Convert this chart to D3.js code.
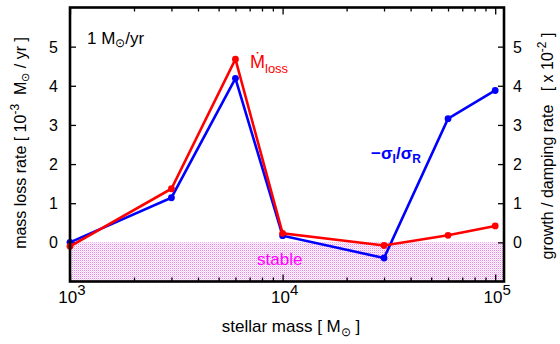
<!DOCTYPE html>
<html>
<head>
<meta charset="utf-8">
<script src="https://cdn.jsdelivr.net/npm/d3@7"></script>
<style>
  html, body { margin: 0; padding: 0; background: #fff; }
  svg { display: block; font-family: "Liberation Sans", Arial, Helvetica, sans-serif; }
</style>
</head>
<body>
<svg id="chart" width="560" height="344"></svg>
<script>
// stellar mass [M_sun]
const masses = [1e3, 3e3, 6e3, 1e4, 3e4, 6e4, 1e5];
// mass loss rate [1e-3 M_sun / yr]
const massLoss = [-0.1, 1.37, 4.68, 0.23, -0.08, 0.18, 0.42];
// growth / damping rate -sigma_I/sigma_R [x 1e-2]
const growthRate = [0.0, 1.14, 4.19, 0.17, -0.4, 3.16, 3.88];
// tick values
const yTicks = [0, 1, 2, 3, 4, 5];
const xMajor = [1e3, 1e4, 1e5];
const xExponents = ["3", "4", "5"];
const stableRange = [-1, 0];

const svg = d3.select("#chart");
const plotL = 70, plotR = 504, plotT = 7.5, plotB = 281.5;

const x = d3.scaleLog().domain([1e3, 1.1e5]).range([plotL, plotR]);
const y = d3.scaleLinear().domain([-1, 6]).range([plotB, plotT]);

// stipple pattern for the stable (damped) region
const defs = svg.append("defs");
const pat = defs.append("pattern").attr("id", "stipple")
  .attr("patternUnits", "userSpaceOnUse").attr("width", 2).attr("height", 2);
pat.append("rect").attr("width", 2).attr("height", 2).attr("fill", "#ffffff");
pat.append("rect").attr("x", 0).attr("y", 0).attr("width", 1).attr("height", 1).attr("fill", "#f080f0");
pat.append("rect").attr("x", 1).attr("y", 1).attr("width", 1).attr("height", 1).attr("fill", "#fad0fa");

svg.append("rect")
  .attr("x", plotL).attr("width", plotR - plotL)
  .attr("y", y(stableRange[1])).attr("height", y(stableRange[0]) - y(stableRange[1]))
  .attr("fill", "url(#stipple)");

svg.append("text")
  .attr("x", x(9.7e3)).attr("y", 265)
  .attr("text-anchor", "middle").attr("font-size", 17).attr("fill", "#ff00ff")
  .text("stable");

// minor log ticks
const xMinor = [];
[1e3, 1e4].forEach(d => { for (let k = 2; k <= 9; k++) xMinor.push(d * k); });

function styleAxis(g) {
  g.select(".domain").remove();
  g.selectAll(".tick line").attr("stroke", "#000").attr("stroke-width", 1.3);
  g.selectAll(".tick text").remove();
}

svg.append("g").attr("transform", `translate(0,${plotB})`)
  .call(d3.axisBottom(x).tickValues(xMajor).tickSize(-7)).call(styleAxis);
svg.append("g").attr("transform", `translate(0,${plotB})`)
  .call(d3.axisBottom(x).tickValues(xMinor).tickSize(-4)).call(styleAxis);
svg.append("g").attr("transform", `translate(0,${plotT})`)
  .call(d3.axisTop(x).tickValues(xMajor).tickSize(-7)).call(styleAxis);
svg.append("g").attr("transform", `translate(0,${plotT})`)
  .call(d3.axisTop(x).tickValues(xMinor).tickSize(-4)).call(styleAxis);
svg.append("g").attr("transform", `translate(${plotL},0)`)
  .call(d3.axisLeft(y).tickValues(yTicks).tickSize(-6)).call(styleAxis);
svg.append("g").attr("transform", `translate(${plotR},0)`)
  .call(d3.axisRight(y).tickValues(yTicks).tickSize(-6)).call(styleAxis);

// tick labels
svg.append("g").selectAll("text").data(yTicks).join("text")
  .attr("x", 58).attr("y", d => y(d) + 6)
  .attr("text-anchor", "end").attr("font-size", 16).text(d => d);
svg.append("g").selectAll("text").data(yTicks).join("text")
  .attr("x", 513).attr("y", d => y(d) + 6)
  .attr("text-anchor", "start").attr("font-size", 16).text(d => d);

const xl = svg.append("g").selectAll("text").data(xMajor).join("text")
  .attr("x", d => x(d) + 2).attr("y", 302.5)
  .attr("text-anchor", "middle").attr("font-size", 17);
xl.append("tspan").text("10");
xl.append("tspan").attr("dy", -8).attr("font-size", 15).text((d, i) => xExponents[i]);

// series lines and markers
const line = d3.line().x(d => x(d[0])).y(d => y(d[1]));
const series = [
  { vals: growthRate, color: "#0000ff" },
  { vals: massLoss, color: "#ff0000" }
];
series.forEach(s => {
  const pts = masses.map((m, i) => [m, s.vals[i]]);
  svg.append("path").datum(pts).attr("d", line)
    .attr("fill", "none").attr("stroke", s.color).attr("stroke-width", 2.6)
    .attr("stroke-linejoin", "miter");
  svg.append("g").selectAll("circle").data(pts).join("circle")
    .attr("cx", d => x(d[0])).attr("cy", d => y(d[1])).attr("r", 3.4)
    .attr("fill", s.color);
});

// frame
svg.append("rect")
  .attr("x", plotL).attr("y", plotT).attr("width", plotR - plotL).attr("height", plotB - plotT)
  .attr("fill", "none").attr("stroke", "#000").attr("stroke-width", 2.6);

// annotations
const ann = svg.append("text").attr("x", 87).attr("y", 44).attr("font-size", 17);
ann.append("tspan").text("1 M");
ann.append("tspan").attr("font-size", 12).attr("dy", 3).text("⊙");
ann.append("tspan").attr("dy", -3).text("/yr");

const ml = svg.append("text").attr("x", 250).attr("y", 68).attr("font-size", 18).attr("fill", "#ff0000");
ml.append("tspan").text("Ṁ");
ml.append("tspan").attr("font-size", 13).attr("dy", 5).text("loss");

const gr = svg.append("text").attr("x", 371).attr("y", 159).attr("font-size", 17)
  .attr("fill", "#0000ff").attr("font-weight", "bold");
gr.append("tspan").text("−σ");
gr.append("tspan").attr("font-size", 12).attr("dy", 4).text("I");
gr.append("tspan").attr("dy", -4).text("/σ");
gr.append("tspan").attr("font-size", 12).attr("dy", 4).text("R");

// axis titles
const xt = svg.append("text").attr("x", 291).attr("y", 332)
  .attr("text-anchor", "middle").attr("font-size", 17);
xt.append("tspan").text("stellar mass [ M");
xt.append("tspan").attr("font-size", 12).attr("dy", 4).text("⊙");
xt.append("tspan").attr("dy", -4).text(" ]");

const ylt = svg.append("text").attr("transform", "translate(26,143) rotate(-90)")
  .attr("text-anchor", "middle").attr("font-size", 16).attr("xml:space", "preserve");
ylt.append("tspan").text("mass loss rate [ 10");
ylt.append("tspan").attr("font-size", 12).attr("dy", -7).text("-3");
ylt.append("tspan").attr("dy", 7).text("  M");
ylt.append("tspan").attr("font-size", 11).attr("dy", 3).text("⊙");
ylt.append("tspan").attr("dy", -3).text(" / yr ]");

const yrt = svg.append("text").attr("transform", "translate(553,146) rotate(-90)")
  .attr("text-anchor", "middle").attr("font-size", 16).attr("xml:space", "preserve");
yrt.append("tspan").text("growth / damping rate   [ x 10");
yrt.append("tspan").attr("font-size", 12).attr("dy", -7).text("-2");
yrt.append("tspan").attr("dy", 7).text(" ]");
</script>
</body>
</html>
